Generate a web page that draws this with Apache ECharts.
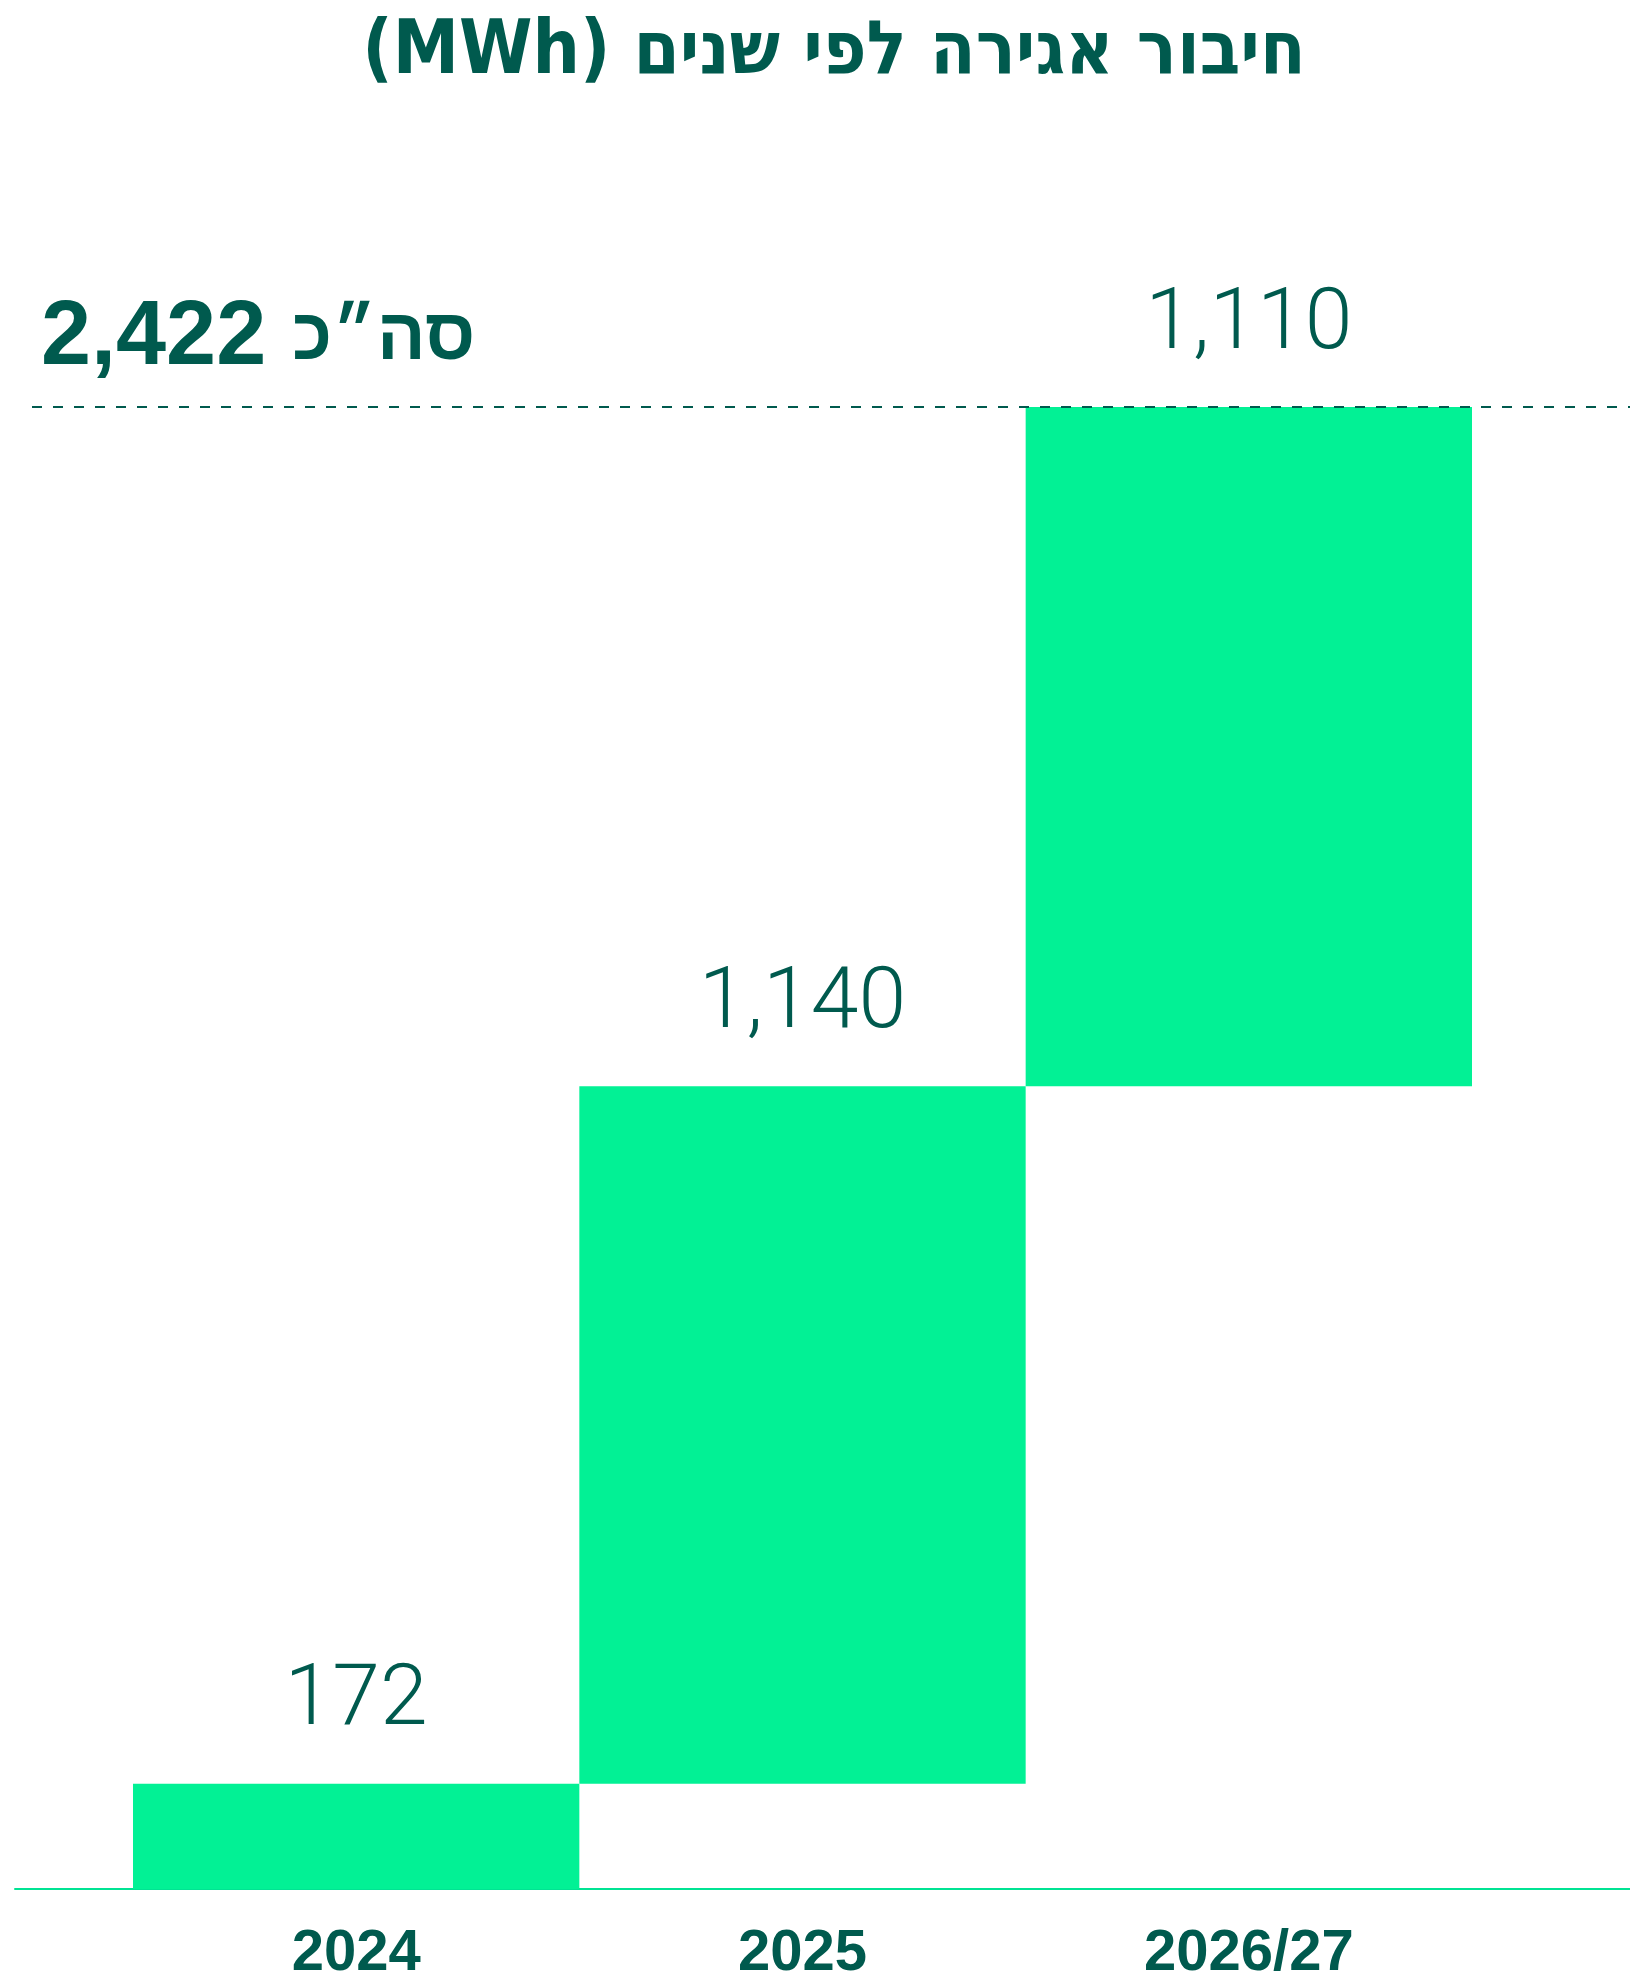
<!DOCTYPE html>
<html>
<head>
<meta charset="utf-8">
<script src="https://cdn.jsdelivr.net/npm/echarts@6/dist/echarts.min.js"></script>
<style>
  html, body { margin: 0; padding: 0; background: #fff; }
  #chart { width: 1630px; height: 1979px; }
</style>
</head>
<body>
<div id="chart"></div>
<script>
// נתונים
const years = ['2024', '2025', '2026/27']
const storage = [172, 1140, 1110]
const totalLabel = '2,422'
const titleText = 'חיבור אגירה לפי שנים (MWh)'

const total = storage.reduce((a, b) => a + b, 0)
const base = []
let run = 0
for (let i = 0; i < storage.length; i++) {
  base.push(run)
  run += storage[i]
}

const dark = '#005a4e'
const green = '#02f195'
const numFont = 'Roboto, "Liberation Sans", sans-serif'
const boldFont = '"Liberation Sans", sans-serif'

const chart = echarts.init(document.getElementById('chart'))
const option = {
  animation: false,
  backgroundColor: '#fff',
  title: [
    {
      // RLE ... PDF so the parentheses sit on the left like in RTL text
      text: '\u202B' + titleText + '\u202C',
      left: 829,
      top: 12,
      textAlign: 'center',
      textStyle: {
        color: dark,
        fontSize: 74,
        fontWeight: 'bold',
        fontFamily: '"DejaVu Sans Condensed", "Liberation Sans", sans-serif'
      }
    },
    {
      text: '{n|' + totalLabel + '}{h|סה״כ}',
      left: 36,
      top: 289,
      textStyle: {
        rich: {
          n: { color: dark, fontSize: 90, fontWeight: 'bold', fontFamily: boldFont },
          h: { color: dark, fontSize: 72, fontFamily: boldFont, padding: [0, 0, 0, 26] }
        }
      }
    }
  ],
  grid: [
    { left: 133, right: 158, top: 407, bottom: 90, outerBoundsMode: 'none' },
    { left: 15, right: 0, top: 407, bottom: 90, outerBoundsMode: 'none' },
    { left: 32, right: 0, top: 407, bottom: 90, outerBoundsMode: 'none' }
  ],
  xAxis: [
    {
      gridIndex: 0,
      type: 'category',
      data: years,
      axisLine: { show: false },
      axisTick: { show: false },
      axisLabel: {
        color: dark,
        fontSize: 58,
        fontWeight: 'bold',
        fontFamily: boldFont,
        margin: 36
      }
    },
    {
      gridIndex: 1,
      type: 'value',
      min: 0,
      max: 1,
      axisLine: { show: true, lineStyle: { color: '#00e393', width: 2 } },
      axisTick: { show: false },
      axisLabel: { show: false },
      splitLine: { show: false }
    },
    {
      gridIndex: 2,
      type: 'value',
      min: 0,
      max: 1,
      show: false
    }
  ],
  yAxis: [0, 1, 2].map(i => ({
    gridIndex: i,
    type: 'value',
    min: 0,
    max: total,
    show: false
  })),
  series: [
    {
      type: 'bar',
      stack: 'w',
      data: base,
      barCategoryGap: 0,
      itemStyle: { color: 'transparent' },
      silent: true
    },
    {
      type: 'bar',
      stack: 'w',
      data: storage,
      barCategoryGap: 0,
      itemStyle: { color: green },
      label: {
        show: true,
        position: 'top',
        distance: 38,
        color: dark,
        fontSize: 86,
        fontWeight: 300,
        fontFamily: numFont,
        formatter: p => p.value.toLocaleString('en-US')
      }
    },
    {
      type: 'line',
      xAxisIndex: 2,
      yAxisIndex: 2,
      data: [],
      markLine: {
        silent: true,
        symbol: 'none',
        label: { show: false },
        lineStyle: { color: dark, width: 2, type: [10, 11] },
        data: [{ yAxis: total }]
      }
    }
  ]
}
chart.setOption(option)
</script>
</body>
</html>
